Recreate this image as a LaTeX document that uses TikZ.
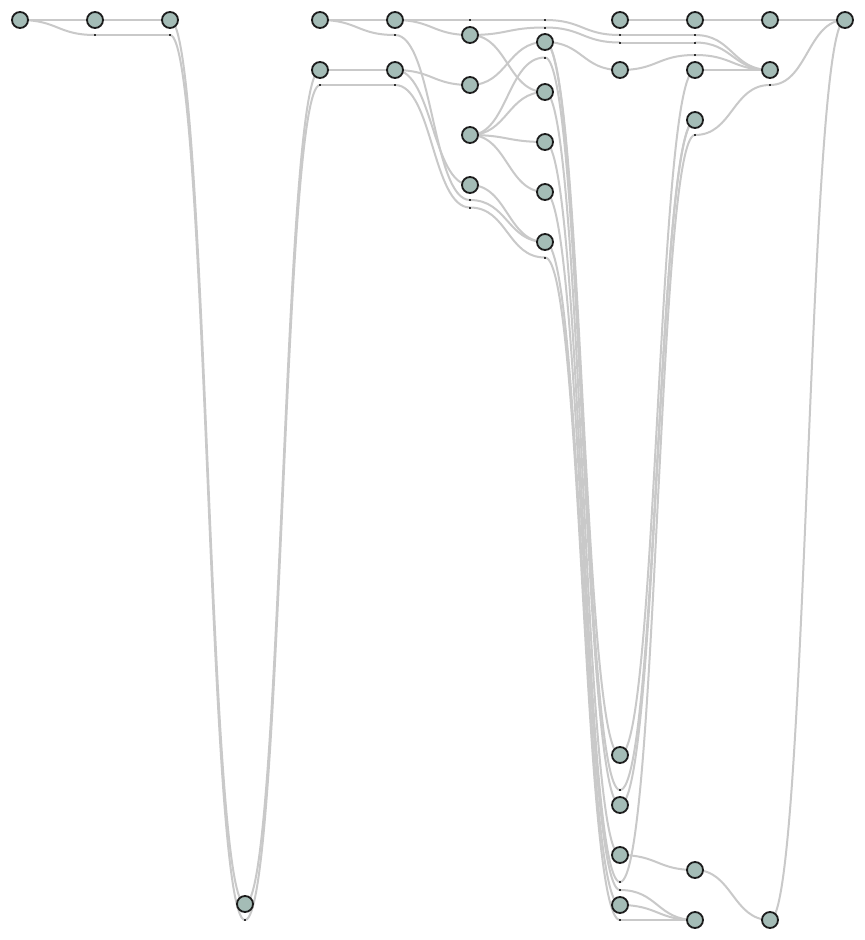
\documentclass[tikz,border=0pt]{standalone}
\usetikzlibrary{calc}
\definecolor{vfill}{HTML}{A4BCB6}
\definecolor{vline}{HTML}{1C1C1C}
\definecolor{ecol}{HTML}{C9C9C9}
\definecolor{dcol}{HTML}{333333}
\tikzset{
  vert/.style={circle,draw=vline,fill=vfill,line width=1.8pt,minimum size=16pt,inner sep=0pt},
  edge/.style={draw=ecol,line width=2pt},
  dum/.style={fill=dcol}
}
\begin{document}
\begin{tikzpicture}[x=1pt,y=-1pt]
\useasboundingbox[fill=white] (0,0) rectangle (865,940);
% real vertices (positions)
\coordinate (A) at (20,20);
\coordinate (B) at (95,20);
\coordinate (C) at (170,20);
\coordinate (D) at (245,904);
\coordinate (E) at (320,20);
\coordinate (F) at (320,70);
\coordinate (G) at (395,20);
\coordinate (H) at (395,70);
\coordinate (I) at (470,35);
\coordinate (J) at (470,85);
\coordinate (K) at (470,135);
\coordinate (L) at (470,185);
\coordinate (M) at (545,42);
\coordinate (N) at (545,92);
\coordinate (O) at (545,142);
\coordinate (P) at (545,192);
\coordinate (Q) at (545,242);
\coordinate (R) at (620,20);
\coordinate (S) at (620,70);
\coordinate (T) at (620,755);
\coordinate (U) at (620,805);
\coordinate (V) at (620,855);
\coordinate (W) at (620,905);
\coordinate (X) at (695,20);
\coordinate (Y) at (695,70);
\coordinate (Z) at (695,120);
\coordinate (AA) at (695,870);
\coordinate (AB) at (695,920);
\coordinate (AC) at (770,20);
\coordinate (AD) at (770,70);
\coordinate (AE) at (770,920);
\coordinate (AF) at (845,20);
% bend points
\coordinate (a1) at (95,35);
\coordinate (a2) at (170,35);
\coordinate (a3) at (245,920);
\coordinate (a4) at (320,85);
\coordinate (a5) at (395,85);
\coordinate (e1) at (395,35);
\coordinate (g1) at (470,20);
\coordinate (e2) at (470,200);
\coordinate (a6) at (470,207.5);
\coordinate (g2) at (545,20);
\coordinate (i1) at (545,27.5);
\coordinate (k1) at (545,57.5);
\coordinate (a7) at (545,257.5);
\coordinate (g3) at (620,35);
\coordinate (i2) at (620,42.5);
\coordinate (m1) at (620,790);
\coordinate (o1) at (620,882);
\coordinate (p1) at (620,890);
\coordinate (a8) at (620,920);
\coordinate (g4) at (695,35);
\coordinate (i3) at (695,42.5);
\coordinate (s1) at (695,55);
\coordinate (o2) at (695,135);
\coordinate (o3) at (770,85);
% connectors
\foreach \u/\v in {A/B,B/C,A/a1,a1/a2,a2/a3,C/D,D/F,a3/a4,a4/a5,E/G,E/e1,F/H,
  G/g1,G/I,H/J,H/L,e1/e2,a5/a6,g1/g2,I/i1,I/N,J/M,K/k1,K/N,K/O,K/P,L/Q,e2/Q,a6/a7,
  g2/g3,i1/i2,M/S,M/T,M/m1,k1/U,N/V,O/o1,P/p1,Q/W,a7/a8,R/X,g3/g4,i2/i3,S/s1,
  T/Y,m1/Z,U/Z,o1/o2,V/AA,p1/AB,W/AB,a8/AB,X/AC,g4/AD,i3/AD,s1/AD,Y/AD,o2/o3,
  AA/AE,AC/AF,o3/AF,AE/AF}
  \draw[edge] let \p1=(\u), \p2=(\v) in
    (\p1) .. controls ({(\x1+\x2)/2},\y1) and ({(\x1+\x2)/2},\y2) .. (\p2);
% bend point dots
\foreach \d in {a1,a2,a3,a4,a5,e1,g1,e2,a6,g2,i1,k1,a7,g3,i2,m1,o1,p1,a8,g4,i3,s1,o2,o3}
  \fill[dum] ($(\d)+(-1,-1)$) rectangle ($(\d)+(1,1)$);
% vertices
\foreach \n in {A,B,C,D,E,F,G,H,I,J,K,L,M,N,O,P,Q,R,S,T,U,V,W,X,Y,Z,AA,AB,AC,AD,AE,AF}
  \node[vert] (n\n) at (\n) {};
\end{tikzpicture}
\end{document}
